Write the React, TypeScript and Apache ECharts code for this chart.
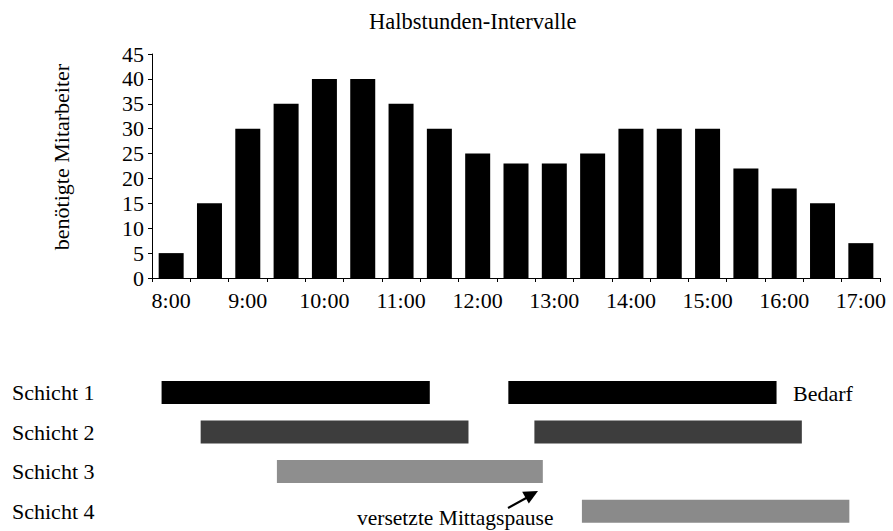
import React, { useEffect, useRef } from "react";
import * as echarts from "echarts";

const timeLabels = [
  "8:00", "8:30", "9:00", "9:30", "10:00", "10:30", "11:00", "11:30", "12:00", "12:30",
  "13:00", "13:30", "14:00", "14:30", "15:00", "15:30", "16:00", "16:30", "17:00",
];
const demand = [5, 15, 30, 35, 40, 40, 35, 30, 25, 23, 23, 25, 30, 30, 30, 22, 18, 15, 7];

const shiftNames = ["Schicht 1", "Schicht 2", "Schicht 3", "Schicht 4"];
const shift1 = [[7.875, 11.375], [12.4, 15.9]];
const shift2 = [[8.385, 11.88], [12.74, 16.23]];
const shift3 = [[9.38, 12.85]];
const shift4 = [[13.36, 16.85]];
const shiftColors = ["#000000", "#3d3d3d", "#8e8e8e", "#8a8a8a"];

const FONT = "Liberation Serif";

export default function App() {
  const ref = useRef<HTMLDivElement>(null);
  useEffect(() => {
    if (!ref.current) return;
    const chart = echarts.init(ref.current, undefined, { renderer: "svg" });
    const shifts = [shift1, shift2, shift3, shift4];
    const ganttData: number[][] = [];
    shifts.forEach((segs, row) => segs.forEach((s) => ganttData.push([row, s[0], s[1]])));

    chart.setOption({
      animation: false,
      backgroundColor: "#ffffff",
      textStyle: { fontFamily: FONT, color: "#000" },
      title: {
        text: "Halbstunden-Intervalle",
        left: 364,
        top: 5,
        textStyle: { fontFamily: FONT, fontSize: 22.5, fontWeight: "normal", color: "#000" },
      },
      grid: [
        { left: 152, right: 13, top: 54, bottom: 253, containLabel: false },
        { left: 152, right: 13, top: 372.6, height: 162.8, containLabel: false },
      ],
      xAxis: [
        {
          type: "category",
          gridIndex: 0,
          data: timeLabels,
          boundaryGap: true,
          axisLine: { lineStyle: { color: "#000", width: 1 } },
          axisTick: { show: true, interval: 0, length: 4, lineStyle: { color: "#000" } },
          axisLabel: { interval: 1, margin: 11, fontFamily: FONT, fontSize: 22, color: "#000" },
        },
        { type: "value", gridIndex: 1, min: 7.75, max: 17.25, show: false },
      ],
      yAxis: [
        {
          type: "value",
          gridIndex: 0,
          min: 0,
          max: 45,
          interval: 5,
          name: "benötigte Mitarbeiter",
          nameLocation: "middle",
          nameGap: 80,
          nameTextStyle: { fontFamily: FONT, fontSize: 22, color: "#000", padding: [0, 0, 0, 18] },
          axisLine: { show: true, lineStyle: { color: "#000", width: 1 } },
          axisTick: { show: true, length: 4, lineStyle: { color: "#000" } },
          axisLabel: { margin: 8, fontFamily: FONT, fontSize: 22, color: "#000" },
          splitLine: { show: false },
        },
        {
          type: "category",
          gridIndex: 1,
          data: shiftNames,
          inverse: true,
          axisLine: { show: false },
          axisTick: { show: false },
          axisLabel: {
            align: "left",
            margin: 140,
            fontFamily: FONT,
            fontSize: 22,
            color: "#000",
            padding: [10, 0, 0, 0],
          },
          splitLine: { show: false },
        },
      ],
      series: [
        {
          type: "bar",
          xAxisIndex: 0,
          yAxisIndex: 0,
          data: demand,
          barWidth: 25,
          itemStyle: { color: "#000" },
        },
        {
          type: "custom",
          xAxisIndex: 1,
          yAxisIndex: 1,
          data: ganttData,
          encode: { x: [1, 2], y: 0 },
          renderItem: (params: any, api: any) => {
            const row = api.value(0);
            const s = api.coord([api.value(1), row]);
            const e = api.coord([api.value(2), row]);
            const h = 23;
            return {
              type: "rect",
              shape: { x: s[0], y: s[1] - h / 2, width: e[0] - s[0], height: h },
              style: { fill: shiftColors[row] },
            };
          },
        },
      ],
      graphic: [
        {
          type: "text",
          left: 793,
          top: 382,
          style: { text: "Bedarf", fontFamily: FONT, fontSize: 22, fill: "#000" },
        },
        {
          type: "text",
          left: 357,
          top: 507,
          style: { text: "versetzte Mittagspause", fontFamily: FONT, fontSize: 21.5, fill: "#000" },
        },
        {
          type: "line",
          shape: { x1: 508, y1: 508, x2: 528, y2: 497 },
          style: { stroke: "#000", lineWidth: 2 },
        },
        {
          type: "polygon",
          shape: { points: [[538, 491], [528.8, 503.5], [522.2, 491.8]] },
          style: { fill: "#000" },
        },
      ],
    });
    return () => chart.dispose();
  }, []);
  return (
    <div
      ref={ref}
      style={{ position: "fixed", left: 0, top: 0, width: 893, height: 531, background: "#fff" }}
    />
  );
}
